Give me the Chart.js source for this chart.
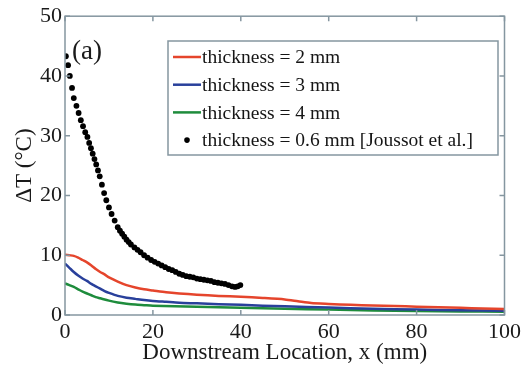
<!DOCTYPE html>
<html>
<head>
<meta charset="utf-8">
<script src="https://cdn.jsdelivr.net/npm/chart.js@4/dist/chart.umd.min.js"></script>
<style>
  html, body { margin: 0; padding: 0; background: #fff; }
  #wrap { width: 525px; height: 367px; }
</style>
</head>
<body>
<div id="wrap"><canvas id="chart" width="525" height="367"></canvas></div>
<script>
// values (x in mm, dT in degC)
var red_x = [0, 1, 2, 3, 4, 5, 6, 7, 8, 9, 10, 12, 14, 16, 18, 20, 23, 26, 30, 35, 40, 45, 50, 53, 56, 60, 65, 70, 75, 80, 85, 90, 95, 100];
var red_y = [10.1, 10.0, 9.9, 9.6, 9.2, 8.8, 8.3, 7.7, 7.2, 6.8, 6.3, 5.6, 5.0, 4.6, 4.3, 4.1, 3.8, 3.6, 3.4, 3.2, 3.05, 2.85, 2.6, 2.3, 2.0, 1.85, 1.7, 1.6, 1.5, 1.4, 1.3, 1.2, 1.1, 1.0];

var blue_x = [0, 1, 2, 3, 4, 5, 6, 7, 8, 9, 10, 12, 14, 16, 18, 20, 23, 26, 30, 35, 40, 45, 50, 60, 70, 80, 90, 100];
var blue_y = [8.6, 7.9, 7.2, 6.6, 6.1, 5.7, 5.2, 4.8, 4.4, 4.0, 3.7, 3.2, 2.9, 2.7, 2.5, 2.35, 2.2, 2.05, 1.95, 1.8, 1.7, 1.55, 1.45, 1.25, 1.05, 0.9, 0.8, 0.7];

var green_x = [0, 1, 2, 3, 4, 5, 6, 7, 8, 10, 12, 14, 16, 18, 20, 25, 30, 40, 50, 60, 70, 80, 90, 100];
var green_y = [5.3, 5.0, 4.7, 4.3, 3.9, 3.6, 3.3, 3.0, 2.8, 2.4, 2.1, 1.9, 1.75, 1.65, 1.55, 1.45, 1.4, 1.2, 1.05, 0.9, 0.75, 0.65, 0.6, 0.55];

var joussot_x = [0.2, 0.7, 1.1, 1.6, 2.0, 2.6, 3.1, 3.6, 4.1, 4.6, 5.1, 5.5, 5.9, 6.3, 6.7, 7.1, 7.5, 7.9, 8.4, 8.9, 9.4, 10.0, 10.6, 11.3, 12.0, 12.5, 13.0, 13.5, 14.0, 14.5, 15.0, 15.8, 16.5, 17.2, 18.0, 18.8, 19.6, 20.4, 21.2, 22.0, 22.8, 23.6, 24.4, 25.2, 26.0, 26.8, 27.6, 28.4, 29.2, 30.0, 30.8, 31.6, 32.4, 33.2, 34.0, 34.8, 35.6, 36.4, 37.2, 38.0, 38.7, 39.3, 39.9];
var joussot_y = [43.3, 41.8, 40.0, 38.0, 36.3, 35.0, 33.8, 32.6, 31.6, 30.6, 29.8, 28.8, 27.9, 27.0, 26.1, 25.2, 24.2, 23.2, 21.8, 20.4, 19.2, 18.0, 16.9, 15.8, 14.7, 14.1, 13.6, 13.1, 12.6, 12.2, 11.8, 11.3, 10.9, 10.5, 10.0, 9.6, 9.2, 8.9, 8.6, 8.3, 8.0, 7.7, 7.5, 7.2, 6.9, 6.7, 6.5, 6.4, 6.3, 6.1, 6.0, 5.9, 5.8, 5.7, 5.5, 5.4, 5.3, 5.2, 5.0, 4.8, 4.7, 4.8, 5.0];

var labels = ['thickness = 2 mm', 'thickness = 3 mm', 'thickness = 4 mm', 'thickness = 0.6 mm [Joussot et al.]'];
var x_ticks = [0, 20, 40, 60, 80, 100];
var y_ticks = [0, 10, 20, 30, 40, 50];

function pts(xs, ys){
    var out = [];
    for (var i = 0; i < xs.length; i++) {
        out.push({x: xs[i], y: ys[i]});
    }
    return out;
}

var serif = "'Liberation Serif', 'Times New Roman', serif";
var axis_color = '#8596a0';

function line_set(label, xs, ys, color){
    return {
        label: label,
        data: pts(xs, ys),
        borderColor: color,
        backgroundColor: color,
        borderWidth: 2.5,
        pointRadius: 0,
        showLine: true,
        tension: 0.25
    };
}

// box round the plot with inward ticks on all four sides
var frame = {
    id: 'frame',
    afterDatasetsDraw: function(chart){
        var ctx = chart.ctx, a = chart.chartArea;
        var sx = chart.scales.x, sy = chart.scales.y;
        var len = 5;
        ctx.save();
        ctx.strokeStyle = axis_color;
        ctx.lineWidth = 1.5;
        ctx.strokeRect(a.left, a.top, a.right - a.left, a.bottom - a.top);
        ctx.beginPath();
        sx.ticks.forEach(function(t){
            var px = sx.getPixelForValue(t.value);
            ctx.moveTo(px, a.bottom); ctx.lineTo(px, a.bottom - len);
            ctx.moveTo(px, a.top); ctx.lineTo(px, a.top + len);
        });
        sy.ticks.forEach(function(t){
            var py = sy.getPixelForValue(t.value);
            ctx.moveTo(a.left, py); ctx.lineTo(a.left + len, py);
            ctx.moveTo(a.right, py); ctx.lineTo(a.right - len, py);
        });
        ctx.stroke();

        // panel tag
        ctx.fillStyle = '#1a1a1a';
        ctx.font = '27px ' + serif;
        ctx.textBaseline = 'middle';
        ctx.textAlign = 'left';
        ctx.fillText('(a)', a.left + 7, a.top + 36);
        ctx.restore();
    }
};

// legend box inside the plot, drawn from the datasets
var inner_legend = {
    id: 'inner_legend',
    afterDraw: function(chart){
        var ctx = chart.ctx;
        var left = 168, top = 41, w = 330, h = 114;
        var row0 = 57, step = 27.7;
        ctx.save();
        ctx.fillStyle = '#fff';
        ctx.fillRect(left, top, w, h);
        ctx.strokeStyle = axis_color;
        ctx.lineWidth = 1.5;
        ctx.strokeRect(left, top, w, h);
        ctx.font = '19.5px ' + serif;
        ctx.textBaseline = 'middle';
        ctx.textAlign = 'left';
        chart.data.datasets.forEach(function(ds, i){
            var y = row0 + i * step;
            if (ds.showLine) {
                ctx.strokeStyle = ds.borderColor;
                ctx.lineWidth = 2.5;
                ctx.beginPath();
                ctx.moveTo(173, y);
                ctx.lineTo(201, y);
                ctx.stroke();
            } else {
                ctx.fillStyle = ds.backgroundColor;
                ctx.beginPath();
                ctx.arc(187, y, 2.8, 0, Math.PI * 2);
                ctx.fill();
            }
            ctx.fillStyle = '#151515';
            ctx.fillText(ds.label, 202, y + 1);
        });
        ctx.restore();
    }
};

var config = {
    type: 'scatter',
    data: {
        datasets: [
            line_set(labels[0], red_x, red_y, '#e5452c'),
            line_set(labels[1], blue_x, blue_y, '#29409b'),
            line_set(labels[2], green_x, green_y, '#1e8c3c'),
            {
                label: labels[3],
                data: pts(joussot_x, joussot_y),
                showLine: false,
                pointRadius: 2.9,
                pointBorderWidth: 0,
                backgroundColor: '#000',
                borderColor: '#000'
            }
        ]
    },
    options: {
        responsive: false,
        animation: false,
        layout: { padding: { top: 15, right: 17, left: 0, bottom: 0 } },
        plugins: {
            legend: { display: false },
            tooltip: { enabled: false }
        },
        scales: {
            x: {
                type: 'linear',
                min: 0,
                max: 100,
                afterBuildTicks: function(scale){
                    scale.ticks = x_ticks.map(function(v){ return {value: v}; });
                },
                afterFit: function(scale){ scale.height = 52; },
                grid: { display: false, drawTicks: false },
                border: { display: false },
                ticks: { font: { family: serif, size: 22 }, color: '#1a1a1a', padding: 4, maxRotation: 0 },
                title: {
                    display: true,
                    text: 'Downstream Location, x (mm)',
                    font: { family: serif, size: 23 },
                    color: '#1a1a1a',
                    padding: { top: 0, bottom: 0 }
                }
            },
            y: {
                type: 'linear',
                min: 0,
                max: 50,
                afterBuildTicks: function(scale){
                    scale.ticks = y_ticks.map(function(v){ return {value: v}; });
                },
                afterFit: function(scale){ scale.width = 65; },
                grid: { display: false, drawTicks: false },
                border: { display: false },
                ticks: { font: { family: serif, size: 22 }, color: '#1a1a1a', padding: 3 },
                title: {
                    display: true,
                    text: 'ΔT (°C)',
                    font: { family: serif, size: 23 },
                    color: '#1a1a1a',
                    padding: { top: 11, bottom: 0 }
                }
            }
        }
    },
    plugins: [frame, inner_legend]
};

new Chart(document.getElementById('chart'), config);
</script>
</body>
</html>
